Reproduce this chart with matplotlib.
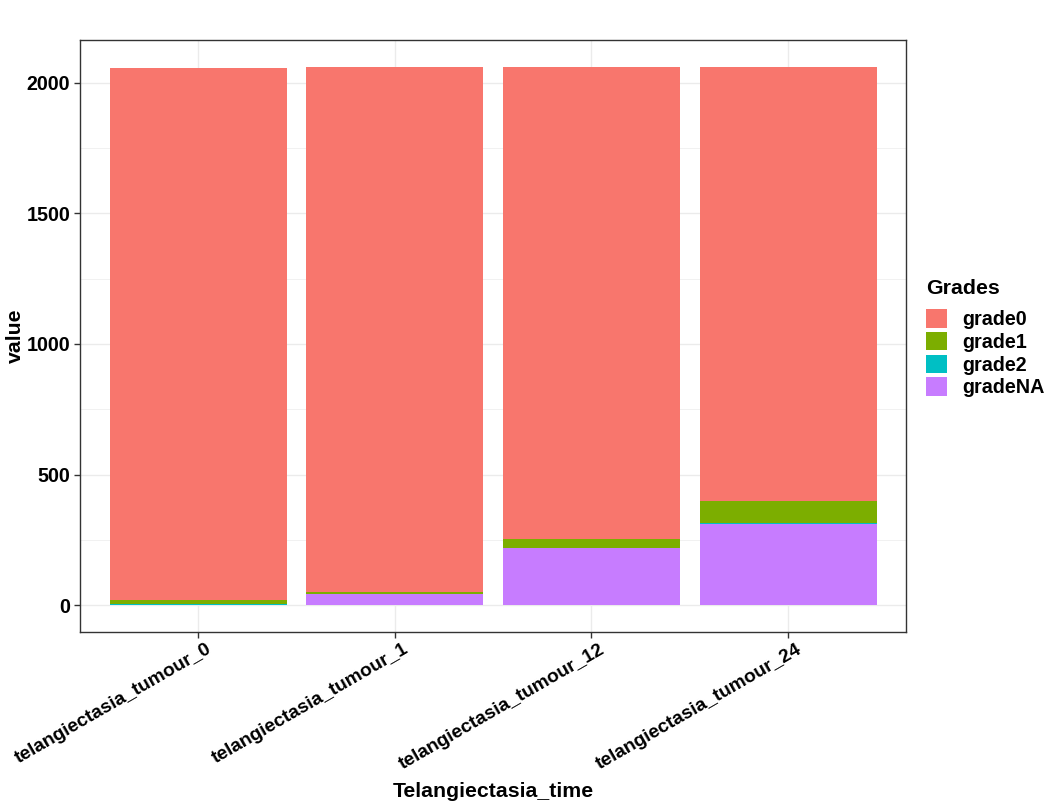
import matplotlib
matplotlib.use("Agg")
import matplotlib.pyplot as plt
import matplotlib.transforms as mtransforms
import numpy as np
from matplotlib.patches import Patch

plt.rcParams['font.family'] = ['Liberation Sans', 'DejaVu Sans']

categories = ["telangiectasia_tumour_0", "telangiectasia_tumour_1",
              "telangiectasia_tumour_12", "telangiectasia_tumour_24"]
grades = ["grade0", "grade1", "grade2", "gradeNA"]
colors = {"grade0": "#F8766D", "grade1": "#7CAE00", "grade2": "#00BFC4", "gradeNA": "#C77CFF"}
grade0 = [2038, 2011, 1808, 1664]
grade1 = [13, 8, 33, 84]
grade2 = [6, 0, 0, 3]
gradeNA = [0, 42, 220, 310]
values = {"grade0": grade0, "grade1": grade1, "grade2": grade2, "gradeNA": gradeNA}

fig = plt.figure(figsize=(10.57, 8.06), dpi=100)
ax = fig.add_axes([80/1057, 1-632/806, 826/1057, 592/806])

x = np.arange(1, len(categories)+1)
bottom = np.zeros(len(categories))
for g in ["gradeNA", "grade2", "grade1", "grade0"]:
    v = np.array(values[g], dtype=float)
    ax.bar(x, v, width=0.9, bottom=bottom, color=colors[g], zorder=2, linewidth=0)
    bottom += v

ax.set_xlim(0.4, 4.6)
top = bottom.max()
ax.set_ylim(-0.05*top, top*1.05)
ax.set_yticks([0, 500, 1000, 1500, 2000])
ax.set_yticks([250, 750, 1250, 1750], minor=True)
ax.grid(which='major', color='#EBEBEB', linewidth=1.0, zorder=0)
ax.grid(which='minor', axis='y', color='#EBEBEB', linewidth=0.5, zorder=0)
ax.tick_params(which='minor', length=0)
ax.tick_params(which='major', length=4, color='#333333', width=1, pad=3)
ax.set_xticks(x)
ax.set_xticklabels(categories, rotation=30, ha='right', va='top', rotation_mode='anchor',
                   fontsize=13.8, fontweight='bold', color='black')
offset = mtransforms.ScaledTranslation(8/100, 1/100, fig.dpi_scale_trans)
for lab in ax.get_xticklabels():
    lab.set_transform(lab.get_transform() + offset)
for lab in ax.get_yticklabels():
    lab.set_fontsize(14.2); lab.set_fontweight('bold'); lab.set_color('black')
for s in ax.spines.values():
    s.set_color('#333333'); s.set_linewidth(1)
ax.set_axisbelow(True)
ax.set_xlabel("Telangiectasia_time", fontsize=15.3, fontweight='bold', labelpad=7)
ax.set_ylabel("value", fontsize=15.3, fontweight='bold', labelpad=1)

handles = [Patch(facecolor=colors[g], edgecolor='none', label=g) for g in grades]
leg = fig.legend(handles=handles, title="Grades", loc='upper left',
                 bbox_to_anchor=(926/1057, 1-279/806), frameon=False,
                 prop={'size': 14.2, 'weight': 'bold'}, handlelength=1.07, handleheight=1.07,
                 labelspacing=0.14, handletextpad=0.75, borderaxespad=0, borderpad=0)
leg.get_title().set_fontsize(15.3)
leg.get_title().set_fontweight('bold')
leg._legend_box.align = "left"
leg._legend_box.sep = 8

fig.savefig("out.png", dpi=100)
